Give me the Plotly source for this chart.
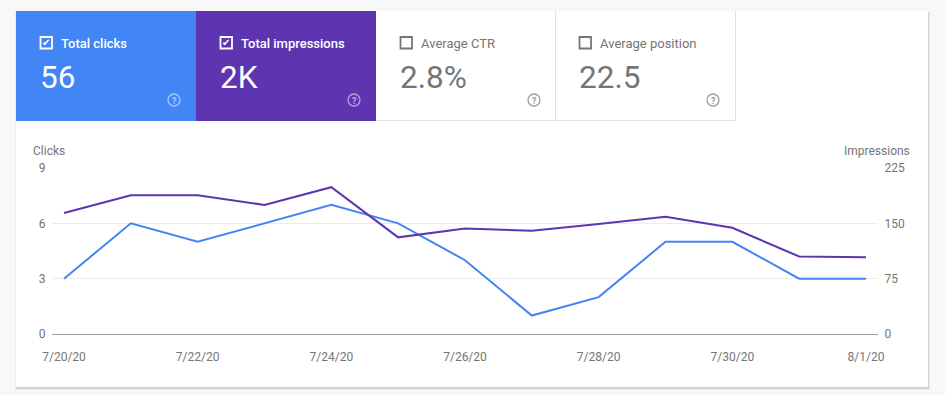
import plotly.graph_objects as go

dates = ["2020-07-20", "2020-07-21", "2020-07-22", "2020-07-23", "2020-07-24",
         "2020-07-25", "2020-07-26", "2020-07-27", "2020-07-28", "2020-07-29",
         "2020-07-30", "2020-07-31", "2020-08-01"]
clicks = [3, 6, 5, 6, 7, 6, 4, 1, 2, 5, 5, 3, 3]
impressions = [164, 188, 188, 175, 199, 131, 143, 140, 149, 159, 144, 105, 104]

tick_dates = ["2020-07-20", "2020-07-22", "2020-07-24", "2020-07-26",
              "2020-07-28", "2020-07-30", "2020-08-01"]
tick_labels = ["7/20/20", "7/22/20", "7/24/20", "7/26/20", "7/28/20", "7/30/20", "8/1/20"]
clicks_ticks = [0, 3, 6, 9]
impr_ticks = [0, 75, 150, 225]

card_titles = ["Total clicks", "Total impressions", "Average CTR", "Average position"]
card_values = ["56", "2K", "2.8%", "22.5"]

BLUE = "#4285f4"
PURPLE = "#5e35b1"
GRAY = "#757575"
W, H = 945, 395
L, R, T, B = 52, 878, 168, 334


def px(x):
    return (x - L) / (R - L)


def py(y):
    return (B - y) / (B - T)


fig = go.Figure()
fig.add_trace(go.Scatter(x=dates, y=clicks, mode="lines", name="Clicks",
                         line=dict(color=BLUE, width=2), yaxis="y"))
fig.add_trace(go.Scatter(x=dates, y=impressions, mode="lines", name="Impressions",
                         line=dict(color=PURPLE, width=2), yaxis="y2"))

shapes = []
annotations = []


def rect(x0, y0, x1, y1, fill, line=None, lw=0):
    shapes.append(dict(type="rect", xref="paper", yref="paper", layer="below",
                       x0=px(x0), x1=px(x1), y0=py(y1), y1=py(y0),
                       fillcolor=fill, line=dict(color=line or "rgba(0,0,0,0)", width=lw)))


def hline(x0, x1, y, color):
    shapes.append(dict(type="line", xref="paper", yref="paper", layer="below",
                       x0=px(x0), x1=px(x1), y0=py(y), y1=py(y),
                       line=dict(color=color, width=1)))


def vline(x, y0, y1, color):
    shapes.append(dict(type="line", xref="paper", yref="paper", layer="below",
                       x0=px(x), x1=px(x), y0=py(y0), y1=py(y1),
                       line=dict(color=color, width=1)))


def text(x, y, s, size, color, xanchor="left", family="Roboto", weight=400):
    annotations.append(dict(xref="paper", yref="paper", x=px(x), y=py(y), text=s,
                            showarrow=False, xanchor=xanchor, yanchor="middle",
                            font=dict(size=size, color=color, family=family, weight=weight)))


# card shadow and body
rect(15, 12, 930, 390, "rgba(0,0,0,0.05)")
rect(16, 12, 929, 389, "rgba(0,0,0,0.10)")
rect(16, 11, 928, 387, "#ffffff")

# metric cards
card_x = [16, 196, 376, 555]
card_w = 180
fills = [BLUE, PURPLE, None, None]
for i, (t, v) in enumerate(zip(card_titles, card_values)):
    x0 = card_x[i]
    active = fills[i] is not None
    if active:
        rect(x0, 11, x0 + card_w, 121, fills[i])
    fg = "#ffffff" if active else GRAY
    # checkbox
    shapes.append(dict(type="rect", xref="paper", yref="paper", layer="above",
                       x0=px(x0 + 24.5), x1=px(x0 + 36), y0=py(48.5), y1=py(37),
                       fillcolor="rgba(0,0,0,0)", line=dict(color=fg, width=1.8)))
    if active:
        text(x0 + 30.2, 42.5, "✔", 10, fg, "center", "DejaVu Sans")
    text(x0 + 43, 43, t, 13, fg, weight=500 if active else 400)
    text(x0 + 22, 78, v, 31.5, fg)
    # help icon
    shapes.append(dict(type="circle", xref="paper", yref="paper", layer="above",
                       x0=px(x0 + 152), x1=px(x0 + 164), y0=py(106), y1=py(94),
                       fillcolor="rgba(0,0,0,0)",
                       line=dict(color="rgba(255,255,255,0.55)" if active else "#9e9e9e",
                                 width=1.3)))
    text(x0 + 158, 100.5, "?", 9, "rgba(255,255,255,0.6)" if active else "#9e9e9e",
         "center", weight=700)

hline(376, 736, 120.5, "#e0e0e0")
vline(555.5, 11, 121, "#e0e0e0")
vline(735.5, 11, 121, "#e0e0e0")

# axis titles
text(31, 151, "Clicks", 12, GRAY)
text(912, 151, "Impressions", 12, GRAY, "right")

fig.update_layout(
    width=W, height=H,
    margin=dict(l=L, r=W - R, t=T, b=H - B, pad=0),
    paper_bgcolor="#f8f8f8",
    plot_bgcolor="rgba(0,0,0,0)",
    showlegend=False,
    font=dict(family="Roboto", color=GRAY, size=12),
    shapes=shapes,
    annotations=annotations,
    xaxis=dict(
        type="date",
        range=["2020-07-19 19:41", "2020-08-01 04:19"],
        tickvals=tick_dates, ticktext=tick_labels,
        showgrid=False, zeroline=False, showline=False,
        ticks="outside", ticklen=12, tickcolor="rgba(0,0,0,0)",
        tickfont=dict(size=12, color=GRAY),
    ),
    yaxis=dict(
        range=[0, 9], tickvals=clicks_ticks,
        showgrid=True, gridcolor="#ebebeb", gridwidth=1,
        zeroline=True, zerolinecolor="#9e9e9e", zerolinewidth=1,
        showline=False, ticks="outside", ticklen=3, tickcolor="rgba(0,0,0,0)",
        tickfont=dict(size=12, color=GRAY),
    ),
    yaxis2=dict(
        range=[0, 225], tickvals=impr_ticks, overlaying="y", side="right",
        showgrid=False, zeroline=False, showline=False,
        ticks="outside", ticklen=3, tickcolor="rgba(0,0,0,0)",
        tickfont=dict(size=12, color=GRAY),
    ),
)

fig.write_html("out.html", config={"displayModeBar": False},
               post_script="document.body.style.margin='0';")
